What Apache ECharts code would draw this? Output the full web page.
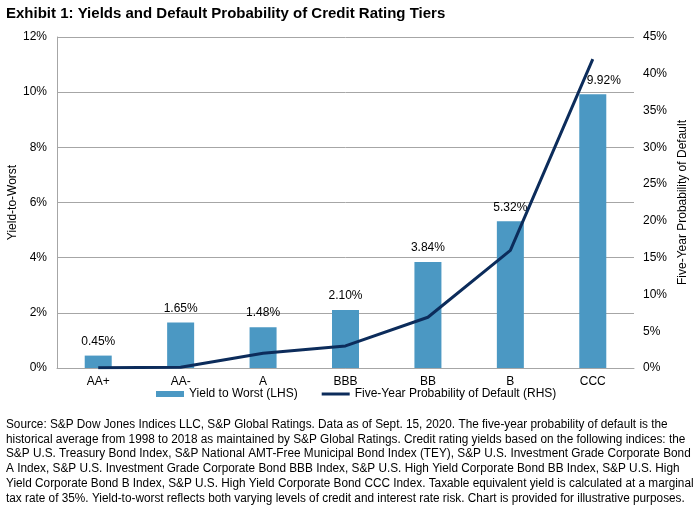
<!DOCTYPE html>
<html>
<head>
<meta charset="utf-8">
<script src="https://cdn.jsdelivr.net/npm/echarts@6/dist/echarts.min.js"></script>
<style>
html,body{margin:0;padding:0;background:#fff;}
#c{width:700px;height:506px;}
</style>
</head>
<body>
<div id="c"></div>
<script>
const categories = ['AA+', 'AA-', 'A', 'BBB', 'BB', 'B', 'CCC'];
const yieldToWorst = [0.45, 1.65, 1.48, 2.10, 3.84, 5.32, 9.92];
const defaultProb = [0.03, 0.1, 2.0, 3.0, 6.9, 16.0, 42.0];
const title = 'Exhibit 1: Yields and Default Probability of Credit Rating Tiers';
const footnote = [
  'Source: S&P Dow Jones Indices LLC, S&P Global Ratings. Data as of Sept. 15, 2020. The five-year probability of default is the',
  'historical average from 1998 to 2018 as maintained by S&P Global Ratings. Credit rating yields based on the following indices: the',
  'S&P U.S. Treasury Bond Index, S&P National AMT-Free Municipal Bond Index (TEY), S&P U.S. Investment Grade Corporate Bond',
  'A Index, S&P U.S. Investment Grade Corporate Bond BBB Index, S&P U.S. High Yield Corporate Bond BB Index, S&P U.S. High',
  'Yield Corporate Bond B Index, S&P U.S. High Yield Corporate Bond CCC Index. Taxable equivalent yield is calculated at a marginal',
  'tax rate of 35%. Yield-to-worst reflects both varying levels of credit and interest rate risk. Chart is provided for illustrative purposes.'
];
const seriesNames = ['Yield to Worst (LHS)', 'Five-Year Probability of Default (RHS)'];

const FONT = '"Liberation Sans", Arial, sans-serif';
const chart = echarts.init(document.getElementById('c'));
chart.setOption({
  backgroundColor: '#fff',
  animation: false,
  textStyle: { fontFamily: FONT },
  title: {
    text: title, left: 6, top: 6, padding: 0,
    textStyle: { fontFamily: FONT, fontSize: 15, fontWeight: 'bold', color: '#000' }
  },
  grid: { left: 57, right: 66, top: 37, bottom: 138, containLabel: false, outerBoundsMode: 'none' },
  legend: {
    left: 151, top: 383, itemWidth: 28, itemHeight: 6, itemGap: 24,
    textStyle: { fontFamily: FONT, fontSize: 12, color: '#000' },
    data: [
      { name: seriesNames[0], icon: 'rect' },
      { name: seriesNames[1], icon: 'path://M0,0h28v3h-28z' }
    ]
  },
  xAxis: {
    type: 'category', data: categories,
    axisLine: { lineStyle: { color: '#a6a6a6' } },
    axisTick: { show: false },
    axisLabel: { color: '#000', fontSize: 12, margin: 8, fontFamily: FONT }
  },
  yAxis: [
    {
      type: 'value', min: 0, max: 12, interval: 2,
      name: 'Yield-to-Worst', nameLocation: 'middle', nameGap: 38, nameRotate: 90,
      nameMoveOverlap: false,
      nameTextStyle: { color: '#000', fontSize: 12, fontFamily: FONT },
      axisLine: { show: true, lineStyle: { color: '#a6a6a6' } },
      axisTick: { show: false },
      axisLabel: { formatter: '{value}%', color: '#000', fontSize: 12, margin: 10, fontFamily: FONT },
      splitLine: { lineStyle: { color: '#a6a6a6' } }
    },
    {
      type: 'value', min: 0, max: 45, interval: 5,
      name: 'Five-Year Probability of Default', nameLocation: 'middle', nameGap: 43, nameRotate: 90,
      nameMoveOverlap: false,
      nameTextStyle: { color: '#000', fontSize: 12, fontFamily: FONT },
      axisLine: { show: false },
      axisTick: { show: false },
      axisLabel: { formatter: '{value}%', color: '#000', fontSize: 12, margin: 9, fontFamily: FONT },
      splitLine: { show: false }
    }
  ],
  series: [
    {
      name: seriesNames[0], type: 'bar', yAxisIndex: 0,
      data: yieldToWorst.map((v, i) => i === categories.length - 1
        ? { value: v, label: { offset: [11, 0] } } : v),
      barWidth: 27,
      itemStyle: { color: '#4b98c3' },
      label: {
        show: true, position: 'top', distance: 8, color: '#000', fontSize: 12, fontFamily: FONT,
        formatter: p => p.value.toFixed(2) + '%'
      }
    },
    {
      name: seriesNames[1], type: 'line', data: defaultProb, yAxisIndex: 1,
      symbol: 'none', lineStyle: { color: '#0c2c5b', width: 3 },
      itemStyle: { color: '#0c2c5b' }
    }
  ],
  graphic: [{
    type: 'text', x: 6, y: 417, scaleX: 0.983,
    style: {
      text: footnote.join('\n'), fill: '#000',
      font: '12px ' + FONT, lineHeight: 14.8
    }
  }]
});
</script>
</body>
</html>
